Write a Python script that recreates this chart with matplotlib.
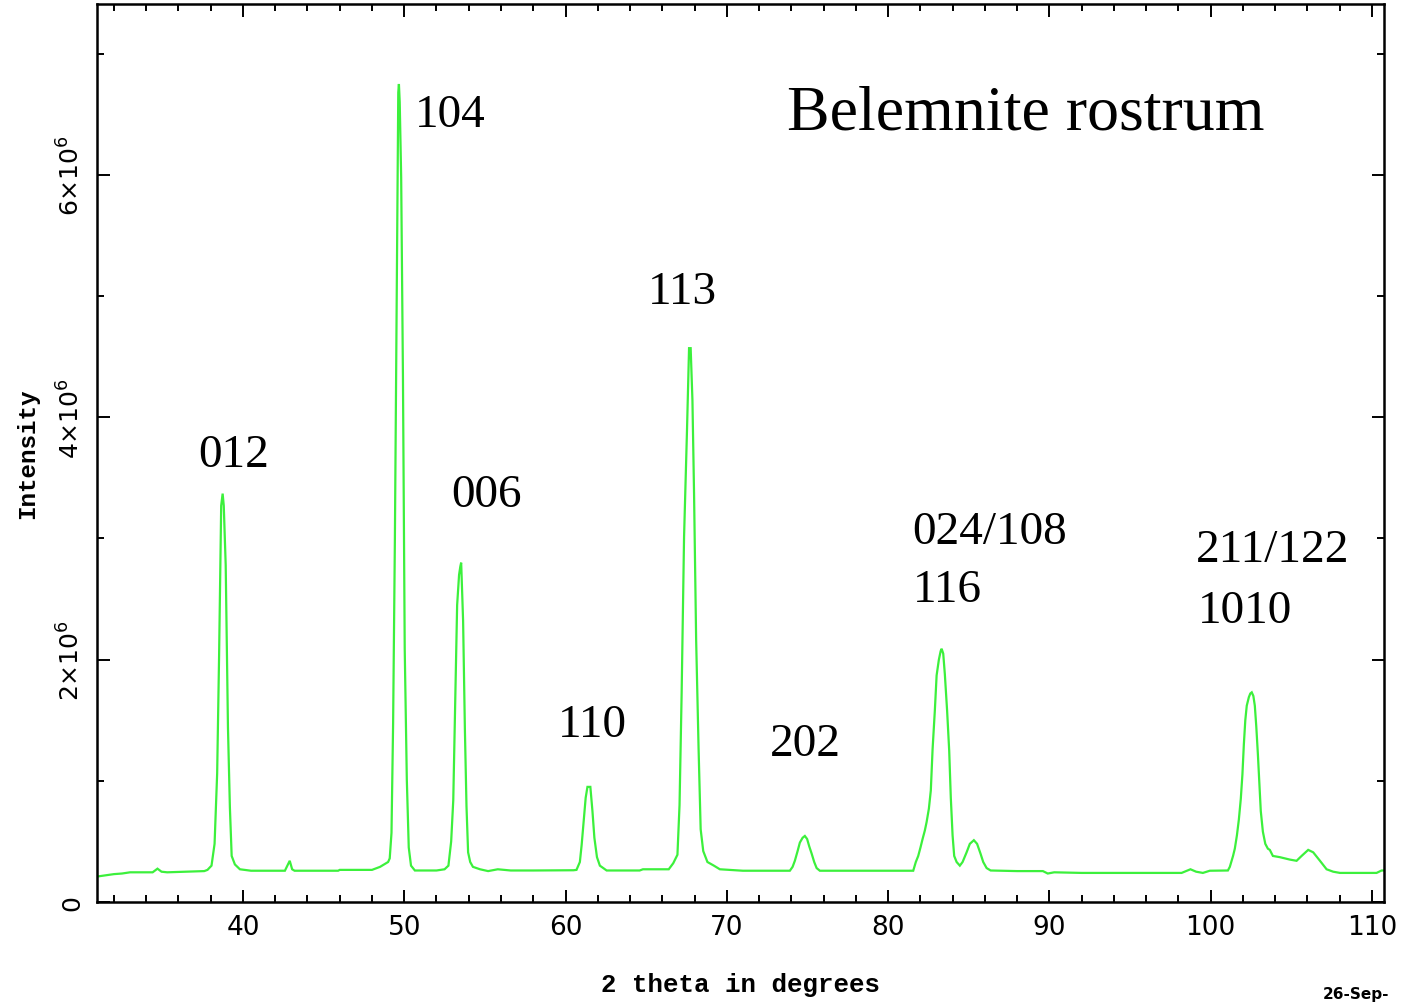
import numpy as np
import matplotlib
matplotlib.use("Agg")
import matplotlib.pyplot as plt
from matplotlib.ticker import MultipleLocator, FixedLocator

# Diffractogram of a belemnite rostrum (calcite), 2-theta in degrees
two_theta = [
    30.95, 31.5, 32.0, 32.5, 33.0, 34.4, 34.7, 34.95, 35.3, 36.5, 37.6, 37.8, 38.05,
    38.24, 38.40, 38.52, 38.65, 38.74, 38.81, 38.93, 39.07, 39.19, 39.30, 39.50, 39.81,
    40.5, 42.6, 42.9, 43.05, 43.2, 45.9, 46.0, 48.0, 48.5, 49.0, 49.1,
    49.21, 49.31, 49.42, 49.54, 49.63, 49.67, 49.72, 49.81, 49.92, 50.03, 50.16, 50.28, 50.42, 50.66, 52.0, 52.5,
    52.74, 52.91, 53.04, 53.16, 53.28, 53.40, 53.48, 53.53, 53.65, 53.76, 53.86, 53.96, 54.09, 54.26,
    54.7, 55.2, 55.8, 56.6, 58.0, 60.5, 60.68,
    60.89, 61.00, 61.13, 61.25, 61.36, 61.54, 61.67, 61.79, 61.95, 62.13, 62.55,
    64.6, 64.8, 66.4, 66.68,
    66.94, 67.07, 67.20, 67.35, 67.53, 67.66, 67.76, 67.87, 67.97, 68.10, 68.25, 68.38, 68.54, 68.80, 69.20, 69.57,
    71.0, 73.91,
    74.08, 74.22, 74.39, 74.53, 74.70, 74.84, 74.98, 75.11, 75.26, 75.42, 75.57, 75.77, 81.56,
    81.72, 81.87, 82.01, 82.14, 82.28, 82.39, 82.53, 82.65, 82.76, 82.90, 83.01, 83.15, 83.26, 83.32, 83.42, 83.52,
    83.66, 83.79, 83.89, 84.00, 84.10, 84.25, 84.45, 84.62, 84.87, 85.07, 85.32, 85.52, 85.73, 85.90, 86.11, 86.36,
    88.0, 89.6, 89.9, 90.3, 92.0, 95.0, 98.2, 98.75, 99.1, 99.52, 99.95, 101.07,
    101.19, 101.39, 101.50, 101.63, 101.75, 101.87, 101.97, 102.06, 102.15, 102.24, 102.37, 102.46,
    102.55, 102.65, 102.74, 102.83, 102.93, 103.02, 103.11, 103.24, 103.39, 103.55, 103.67, 103.86,
    104.29, 104.91, 105.33, 105.64, 106.05, 106.36, 106.78, 107.19, 107.60, 108.02, 110.29, 110.60, 110.74,
]

# Intensity in units of 10^6 counts
intensity_millions = [
    0.21, 0.22, 0.23, 0.235, 0.245, 0.245, 0.275, 0.25, 0.245, 0.25, 0.255, 0.265, 0.30,
    0.48, 1.06, 2.03, 3.27, 3.37, 3.27, 2.78, 1.44, 0.78, 0.38, 0.31, 0.27,
    0.258, 0.258, 0.34, 0.27, 0.258, 0.258, 0.265, 0.265, 0.29, 0.33, 0.36,
    0.57, 1.47, 2.99, 5.13, 6.68, 6.75, 6.60, 5.98, 4.34, 2.09, 1.01, 0.45, 0.30, 0.26, 0.26, 0.27,
    0.30, 0.50, 0.84, 1.65, 2.45, 2.70, 2.77, 2.80, 2.32, 1.43, 0.79, 0.41, 0.33, 0.29,
    0.27, 0.255, 0.27, 0.26, 0.26, 0.262, 0.265,
    0.33, 0.47, 0.67, 0.86, 0.95, 0.95, 0.75, 0.53, 0.37, 0.30, 0.26,
    0.26, 0.27, 0.27, 0.32,
    0.39, 0.80, 1.72, 3.01, 3.88, 4.57, 4.57, 4.14, 3.37, 2.16, 1.27, 0.60, 0.42, 0.33, 0.30, 0.27,
    0.258, 0.258,
    0.29, 0.34, 0.42, 0.49, 0.53, 0.545, 0.52, 0.46, 0.40, 0.33, 0.28, 0.258, 0.258,
    0.33, 0.38, 0.45, 0.52, 0.59, 0.66, 0.77, 0.92, 1.26, 1.58, 1.87, 2.00, 2.07, 2.09, 2.05, 1.88,
    1.58, 1.25, 0.86, 0.55, 0.38, 0.33, 0.30, 0.33, 0.41, 0.48, 0.51, 0.48, 0.40, 0.33, 0.28, 0.26,
    0.255, 0.255, 0.235, 0.245, 0.24, 0.24, 0.24, 0.27, 0.25, 0.24, 0.258, 0.26,
    0.29, 0.38, 0.44, 0.55, 0.68, 0.85, 1.05, 1.30, 1.50, 1.62, 1.69, 1.72,
    1.73, 1.70, 1.62, 1.45, 1.22, 0.98, 0.75, 0.58, 0.48, 0.44, 0.43, 0.38,
    0.37, 0.35, 0.34, 0.38, 0.43, 0.41, 0.34, 0.27, 0.25, 0.24, 0.24, 0.26, 0.26,
]

# Miller-index labels: text, left edge (2-theta), baseline (counts)
peak_labels = ["012", "104", "006", "110", "113", "202", "024/108", "116", "211/122", "1010"]
label_x = [37.21, 50.66, 52.90, 59.53, 65.11, 72.67, 81.48, 81.54, 99.08, 99.21]
label_y = [3.60e6, 6.40e6, 3.27e6, 1.37e6, 4.94e6, 1.21e6, 2.96e6, 2.48e6, 2.81e6, 2.31e6]

x_ticks = [40, 50, 60, 70, 80, 90, 100, 110]
y_ticks = [0, 2e6, 4e6, 6e6]
y_tick_labels = ["0", r"$2{\times}10^6$", r"$4{\times}10^6$", r"$6{\times}10^6$"]

plt.rcParams["mathtext.fontset"] = "dejavusans"

fig = plt.figure(figsize=(14.02, 10.03), dpi=100)
ax = fig.add_axes([97 / 1402, 1 - 903 / 1003, 1287 / 1402, 898 / 1003])

x = np.array(two_theta)
y = np.array(intensity_millions) * 1e6
ax.plot(x, y, color="#3cf03c", lw=1.6, solid_joinstyle="miter")

ax.set_xlim(30.95, 110.75)
ax.set_ylim(0, 7.41e6)

ax.xaxis.set_major_locator(FixedLocator(x_ticks))
ax.xaxis.set_minor_locator(MultipleLocator(2))
ax.yaxis.set_major_locator(FixedLocator(y_ticks))
ax.yaxis.set_minor_locator(MultipleLocator(1e6))
ax.set_xticklabels([str(t) for t in x_ticks])
ax.set_yticklabels(y_tick_labels, rotation=90, va="center")

ax.tick_params(which="both", direction="in", top=True, right=True, width=1.4, color="black")
ax.tick_params(which="major", length=9)
ax.tick_params(which="minor", length=5)
ax.tick_params(axis="x", which="major", labelsize=19, pad=9)
ax.tick_params(axis="y", which="major", labelsize=18, pad=9)
for s in ax.spines.values():
    s.set_linewidth(1.8)
    s.set_color("black")

ax.set_xlabel("2 theta in degrees", family="Liberation Mono", weight="bold", fontsize=18.5)
ax.xaxis.set_label_coords(0.5, -0.0913)
ax.xaxis.label.set_va("center")
ax.set_ylabel("Intensity", family="Liberation Mono", weight="bold", fontsize=17.5)
ax.yaxis.set_label_coords(-0.0536, 0.5)
ax.yaxis.label.set_va("center")

for txt, lx, ly in zip(peak_labels, label_x, label_y):
    ax.text(lx, ly, txt, family="Liberation Serif", fontsize=34,
            ha="left", va="baseline", color="black")

ax.text(73.73, 6.38e6, "Belemnite rostrum", family="Liberation Serif", fontsize=46,
        ha="left", va="baseline", color="black")

# run date stamp in the lower right corner
fig.text(1323 / 1402, 1 - 1002 / 1003, "26-Sep-", fontsize=11, weight="bold",
         ha="left", va="bottom", color="black")

fig.savefig("out.png", dpi=100)
